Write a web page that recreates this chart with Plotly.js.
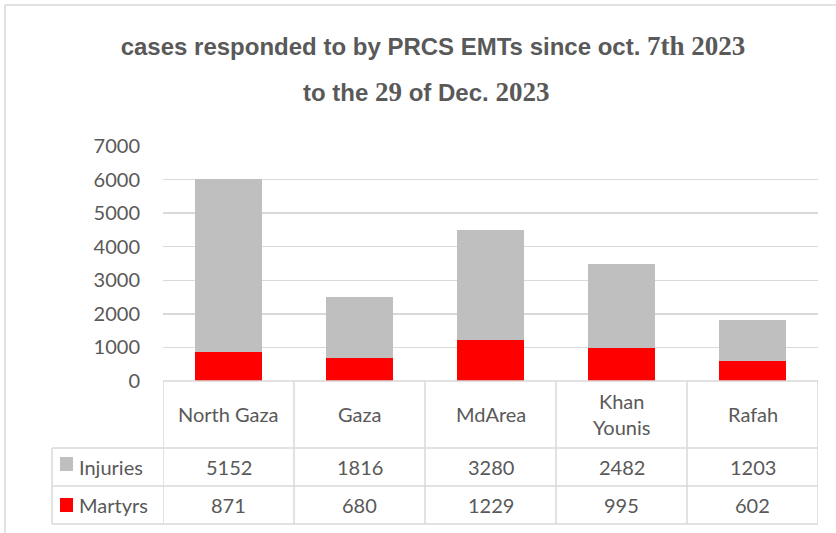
<!DOCTYPE html>
<html>
<head>
<meta charset="utf-8">
<script src="https://cdn.plot.ly/plotly-3.0.1.min.js"></script>
<style>html,body{margin:0;padding:0;background:#fff;}#chart{width:836px;height:533px;}</style>
</head>
<body>
<div id="chart"></div>
<script>
const categories = ['North Gaza', 'Gaza', 'MdArea', 'Khan<br>Younis', 'Rafah'];
const injuries = [5152, 1816, 3280, 2482, 1203];
const martyrs = [871, 680, 1229, 995, 602];
const seriesNames = ['Injuries', 'Martyrs'];
const yTicks = [0, 1000, 2000, 3000, 4000, 5000, 6000, 7000];

const W = 836, H = 533;
const M = {l: 163, r: 18, t: 146, b: 152};
const PW = W - M.l - M.r, PH = H - M.t - M.b;
const px = x => (x - M.l) / PW;          // pixel x -> paper
const py = y => (H - M.b - y) / PH;      // pixel y -> paper

const TXT = '#595959', GRID = '#D9D9D9';
const GRAY = '#BFBFBF', RED = '#FF0000';
const FONT = 'Lato, "Open Sans", sans-serif';
const idx = categories.map((_, i) => i);

const traces = [
  {type: 'bar', name: seriesNames[1], x: idx, y: martyrs, marker: {color: RED}, hoverinfo: 'skip'},
  {type: 'bar', name: seriesNames[0], x: idx, y: injuries, marker: {color: GRAY}, hoverinfo: 'skip'}
];

const line = {color: GRID, width: 1.5};
const shapes = [];
shapes.push({type: 'line', xref: 'paper', yref: 'paper', x0: px(5), x1: px(840), y0: py(5), y1: py(5), line: line});
shapes.push({type: 'line', xref: 'paper', yref: 'paper', x0: px(5), x1: px(5), y0: py(5), y1: py(540), line: line});
shapes.push({type: 'line', xref: 'x', yref: 'paper', x0: -0.5, x1: categories.length - 0.5, y0: 0, y1: 0, line: line});
[448, 486, 524].forEach(yy => shapes.push({type: 'line', xref: 'paper', yref: 'paper', x0: px(52), x1: 1, y0: py(yy), y1: py(yy), line: line}));
for (let i = 0; i <= categories.length; i++) {
  shapes.push({type: 'line', xref: 'x', yref: 'paper', x0: i - 0.5, x1: i - 0.5, y0: 0, y1: py(524), line: line});
}
shapes.push({type: 'line', xref: 'paper', yref: 'paper', x0: px(52), x1: px(52), y0: py(448), y1: py(524), line: line});
[[GRAY, 457], [RED, 498]].forEach(([c, top]) => shapes.push({type: 'rect', xref: 'paper', yref: 'paper', x0: px(60), x1: px(73), y0: py(top), y1: py(top + 14), fillcolor: c, line: {width: 0}}));

const annotations = [];
const cellFont = {family: FONT, size: 20, color: TXT};
categories.forEach((c, i) => {
  annotations.push({xref: 'x', yref: 'paper', x: i, y: py(414), text: c, showarrow: false, font: cellFont, align: 'center', yanchor: 'middle'});
  annotations.push({xref: 'x', yref: 'paper', x: i, y: py(467), text: String(injuries[i]), showarrow: false, font: cellFont, yanchor: 'middle'});
  annotations.push({xref: 'x', yref: 'paper', x: i, y: py(505), text: String(martyrs[i]), showarrow: false, font: cellFont, yanchor: 'middle'});
});
annotations.push({xref: 'paper', yref: 'paper', x: px(77), y: py(467), text: seriesNames[0], showarrow: false, font: cellFont, xanchor: 'left', yanchor: 'middle'});
annotations.push({xref: 'paper', yref: 'paper', x: px(77), y: py(505), text: seriesNames[1], showarrow: false, font: cellFont, xanchor: 'left', yanchor: 'middle'});

const serif = s => '<span style="font-family:Liberation Serif;font-size:27px">' + s + '</span>';
const titleFont = {family: 'Liberation Sans, Arial, sans-serif', size: 24, color: TXT, weight: 'bold'};
annotations.push({xref: 'paper', yref: 'paper', x: px(426), y: py(92), text: '<b>to the ' + serif('29') + ' of Dec.' + serif(' 2023') + '</b>', showarrow: false, font: titleFont, yanchor: 'middle'});

const layout = {
  width: W, height: H,
  margin: M,
  paper_bgcolor: '#fff', plot_bgcolor: '#fff',
  barmode: 'stack',
  bargap: 0.49,
  showlegend: false,
  title: {text: '<b>cases responded to by PRCS EMTs since oct.' + serif(' 7th 2023') + '</b>', font: titleFont, x: 433 / W, xanchor: 'center', y: 1 - 47 / H, yanchor: 'middle', xref: 'container', yref: 'container'},
  xaxis: {range: [-0.5, categories.length - 0.5], showticklabels: false, showgrid: false, zeroline: false, showline: false, ticks: '', fixedrange: true},
  yaxis: {range: [0, 7000], tickvals: yTicks, ticktext: yTicks.map(String), showgrid: true, gridcolor: GRID, gridwidth: 1.5, zeroline: false, showline: false, ticks: '', ticklabelstandoff: 22, tickfont: {family: FONT, size: 20, color: TXT}, fixedrange: true},
  shapes: shapes,
  annotations: annotations
};

Plotly.newPlot('chart', traces, layout, {displayModeBar: false, staticPlot: true});
</script>
</body>
</html>
